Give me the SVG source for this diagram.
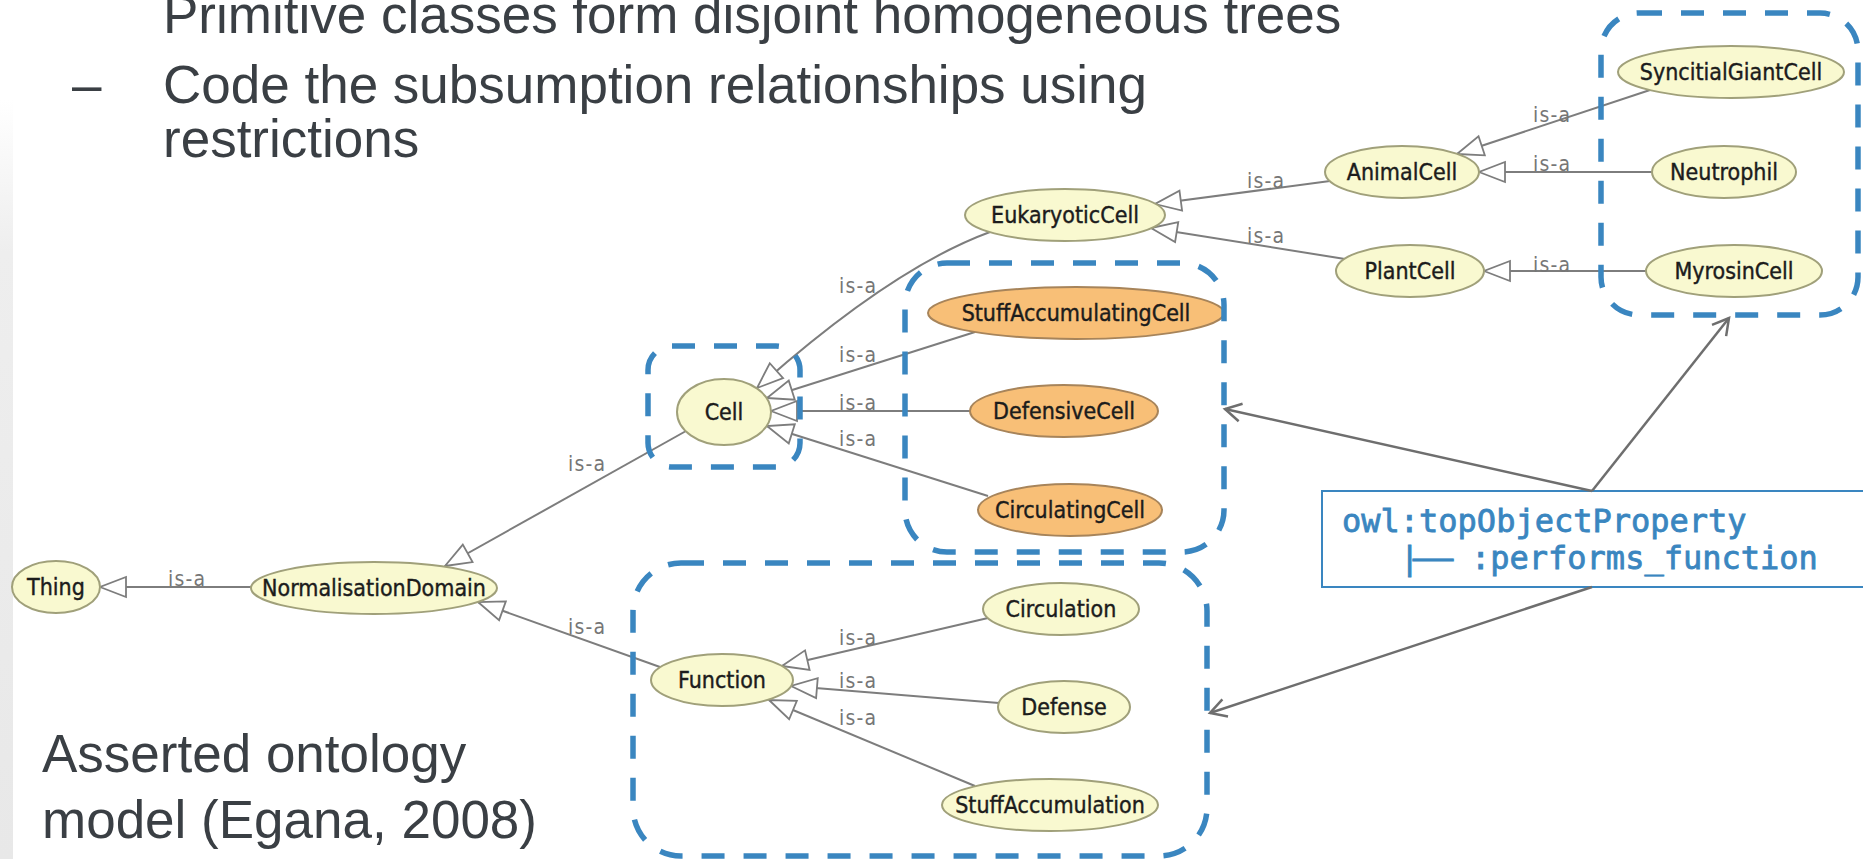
<svg xmlns="http://www.w3.org/2000/svg" width="1863" height="859" viewBox="0 0 1863 859">
  <defs>
    <style>
      .slide { font-family: "Liberation Sans", Arial, sans-serif; font-size: 53px; fill: #3a3f44; }
      .node ellipse { fill: #f9f9d0; stroke: #a0a07a; stroke-width: 2; }
      .node.inferred ellipse { fill: #f8bf77; stroke: #a7845a; }
      .node text { font-family: "DejaVu Sans Condensed", "DejaVu Sans", sans-serif; font-stretch: condensed; font-size: 23px; fill: #1c1c1c; stroke: #1c1c1c; stroke-width: 0.4; text-anchor: middle; }
      .edge { fill: none; stroke: #7d7d7d; stroke-width: 2; marker-end: url(#tri); }
      .lbl { font-family: "DejaVu Sans Condensed", "DejaVu Sans", sans-serif; font-stretch: condensed; font-size: 21px; letter-spacing: 1.2px; fill: #767676; }
      .group { fill: none; stroke: #3a86c0; stroke-width: 5.5; stroke-dasharray: 23 19; }
      .ptr { fill: none; stroke: #6e6e6e; stroke-width: 2.5; marker-end: url(#chev); }
      .code { font-family: "DejaVu Sans Mono", "Liberation Mono", monospace; font-size: 32px; fill: #3a86c0; stroke: #3a86c0; stroke-width: 0.8; }
    </style>
    <marker id="tri" markerUnits="userSpaceOnUse" markerWidth="32" markerHeight="26" viewBox="-29 -13 32 26" refX="0" refY="0" orient="auto">
      <path d="M0,0 L-26,-10 L-26,10 Z" fill="#ffffff" stroke="#7d7d7d" stroke-width="1.8"/>
    </marker>
    <marker id="chev" markerUnits="userSpaceOnUse" markerWidth="24" markerHeight="24" viewBox="-20 -12 24 24" refX="0" refY="0" orient="auto">
      <path d="M-16,-9 L0,0 L-16,9" fill="none" stroke="#6e6e6e" stroke-width="2.5"/>
    </marker>
    <linearGradient id="edgeShade" x1="0" y1="0" x2="0" y2="1">
      <stop offset="0" stop-color="#ffffff"/>
      <stop offset="0.2" stop-color="#eeeeee"/>
      <stop offset="1" stop-color="#e8e8e8"/>
    </linearGradient>
  </defs>

  <rect x="0" y="0" width="1863" height="859" fill="#ffffff"/>
  <rect x="0" y="100" width="13" height="759" fill="url(#edgeShade)"/>

  <!-- slide text -->
  <text class="slide" x="163" y="33">Primitive classes form disjoint homogeneous trees</text>
  <text class="slide" x="72" y="103">–</text>
  <text class="slide" x="163" y="103">Code the subsumption relationships using</text>
  <text class="slide" x="163" y="157">restrictions</text>
  <text class="slide" x="42" y="772">Asserted ontology</text>
  <text class="slide" x="42" y="838">model (Egana, 2008)</text>

  <!-- is-a connectors -->
  <g id="connectors">
    <line class="edge" x1="251" y1="587" x2="100" y2="587"/>
    <line class="edge" x1="686" y1="431" x2="445" y2="566"/>
    <line class="edge" x1="660" y1="667" x2="478" y2="602"/>
    <path class="edge" d="M990,232 Q892,268 757,388"/>
    <line class="edge" x1="975" y1="332" x2="767" y2="398"/>
    <line class="edge" x1="970" y1="411" x2="771" y2="411"/>
    <line class="edge" x1="988" y1="496" x2="767" y2="426"/>
    <line class="edge" x1="1330" y1="181" x2="1155" y2="204"/>
    <line class="edge" x1="1345" y1="259" x2="1151" y2="228"/>
    <line class="edge" x1="1650" y1="90" x2="1457" y2="154"/>
    <line class="edge" x1="1652" y1="172" x2="1479" y2="172"/>
    <line class="edge" x1="1646" y1="271" x2="1484" y2="271"/>
    <line class="edge" x1="988" y1="618" x2="782" y2="666"/>
    <line class="edge" x1="999" y1="703" x2="791" y2="686"/>
    <line class="edge" x1="975" y1="786" x2="769" y2="700"/>

    <text class="lbl" x="168" y="586">is-a</text>
    <text class="lbl" x="568" y="471">is-a</text>
    <text class="lbl" x="568" y="634">is-a</text>
    <text class="lbl" x="839" y="293">is-a</text>
    <text class="lbl" x="839" y="362">is-a</text>
    <text class="lbl" x="839" y="410">is-a</text>
    <text class="lbl" x="839" y="446">is-a</text>
    <text class="lbl" x="1247" y="188">is-a</text>
    <text class="lbl" x="1247" y="243">is-a</text>
    <text class="lbl" x="1533" y="122">is-a</text>
    <text class="lbl" x="1533" y="171">is-a</text>
    <text class="lbl" x="1533" y="272">is-a</text>
    <text class="lbl" x="839" y="645">is-a</text>
    <text class="lbl" x="839" y="688">is-a</text>
    <text class="lbl" x="839" y="725">is-a</text>
  </g>

  <!-- class nodes -->
  <g id="thing" class="node"><ellipse cx="56" cy="587" rx="44" ry="26"/><text x="56" y="595">Thing</text></g>
  <g id="normalisation-domain" class="node"><ellipse cx="374" cy="588" rx="123" ry="26"/><text x="374" y="596">NormalisationDomain</text></g>
  <g id="cell" class="node"><ellipse cx="724" cy="412" rx="47" ry="33"/><text x="724" y="420">Cell</text></g>
  <g id="eukaryotic-cell" class="node"><ellipse cx="1065" cy="215" rx="100" ry="26"/><text x="1065" y="223">EukaryoticCell</text></g>
  <g id="stuff-accumulating-cell" class="node inferred"><ellipse cx="1076" cy="313" rx="148" ry="26"/><text x="1076" y="321">StuffAccumulatingCell</text></g>
  <g id="defensive-cell" class="node inferred"><ellipse cx="1064" cy="411" rx="94" ry="26"/><text x="1064" y="419">DefensiveCell</text></g>
  <g id="circulating-cell" class="node inferred"><ellipse cx="1070" cy="510" rx="92" ry="26"/><text x="1070" y="518">CirculatingCell</text></g>
  <g id="animal-cell" class="node"><ellipse cx="1402" cy="172" rx="77" ry="26"/><text x="1402" y="180">AnimalCell</text></g>
  <g id="plant-cell" class="node"><ellipse cx="1410" cy="271" rx="74" ry="26"/><text x="1410" y="279">PlantCell</text></g>
  <g id="syncitial-giant-cell" class="node"><ellipse cx="1731" cy="72" rx="113" ry="26"/><text x="1731" y="80">SyncitialGiantCell</text></g>
  <g id="neutrophil" class="node"><ellipse cx="1724" cy="172" rx="72" ry="26"/><text x="1724" y="180">Neutrophil</text></g>
  <g id="myrosin-cell" class="node"><ellipse cx="1734" cy="271" rx="88" ry="26"/><text x="1734" y="279">MyrosinCell</text></g>
  <g id="function" class="node"><ellipse cx="722" cy="680" rx="71" ry="26"/><text x="722" y="688">Function</text></g>
  <g id="circulation" class="node"><ellipse cx="1061" cy="609" rx="78" ry="26"/><text x="1061" y="617">Circulation</text></g>
  <g id="defense" class="node"><ellipse cx="1064" cy="707" rx="66" ry="26"/><text x="1064" y="715">Defense</text></g>
  <g id="stuff-accumulation" class="node"><ellipse cx="1050" cy="805" rx="108" ry="26"/><text x="1050" y="813">StuffAccumulation</text></g>

  <!-- dashed groupings -->
  <g id="groupings">
    <rect class="group" x="648" y="346" width="152" height="121" rx="24"/>
    <rect class="group" x="905" y="263" width="319" height="289" rx="42"/>
    <rect class="group" x="633" y="563" width="574" height="293" rx="48"/>
    <rect class="group" x="1601" y="13" width="257" height="302" rx="38"/>
  </g>

  <!-- property note -->
  <g id="property-note">
    <rect x="1322" y="491" width="600" height="96" fill="#ffffff" stroke="#3a86c0" stroke-width="2"/>
    <text class="code" x="1342" y="532">owl:topObjectProperty</text>
    <text class="code" y="569"><tspan x="1400">|</tspan><tspan x="1413" textLength="40" lengthAdjust="spacingAndGlyphs">—</tspan><tspan x="1471">:performs_function</tspan></text>
  </g>
  <g id="note-pointers">
    <line class="ptr" x1="1592" y1="491" x2="1225" y2="409"/>
    <line class="ptr" x1="1592" y1="491" x2="1729" y2="318"/>
    <line class="ptr" x1="1592" y1="587" x2="1210" y2="713"/>
  </g>
</svg>
